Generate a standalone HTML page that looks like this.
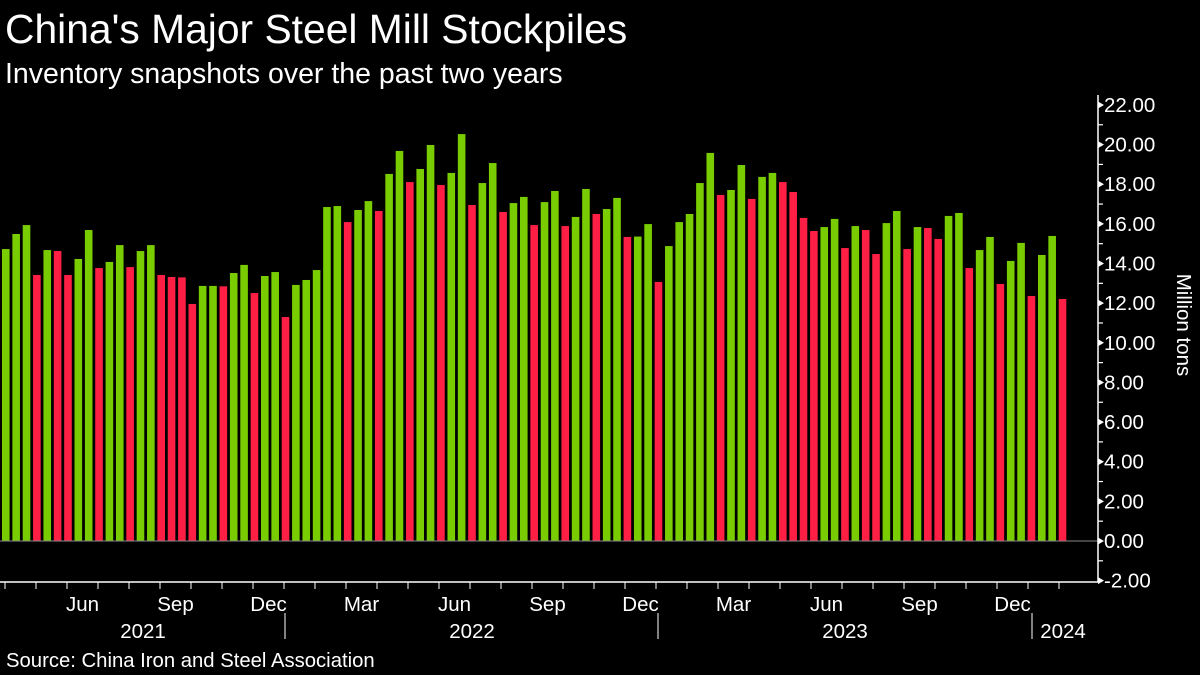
<!DOCTYPE html>
<html><head><meta charset="utf-8"><style>
html,body{margin:0;padding:0;background:#000;width:1200px;height:675px;overflow:hidden}
svg{display:block;font-family:"Liberation Sans",Arial,sans-serif}
</style></head><body>
<svg id="chart" width="1200" height="675" xmlns="http://www.w3.org/2000/svg">
<rect width="1200" height="675" fill="#000"/>
<text x="5" y="43" fill="#fff" font-size="40.8">China's Major Steel Mill Stockpiles</text>
<text x="5" y="83" fill="#fff" font-size="28.5">Inventory snapshots over the past two years</text>
<text x="6" y="667" fill="#fff" font-size="20.3">Source: China Iron and Steel Association</text>
<g id="bars"></g>
<g id="axes"></g>
</svg>
<script>
const values = [14.73,15.49,15.94,13.42,14.68,14.63,13.42,14.23,15.69,13.77,14.08,14.93,13.82,14.63,14.93,13.42,13.32,13.30,11.96,12.87,12.87,12.85,13.52,13.93,12.51,13.37,13.57,11.30,12.92,13.17,13.67,16.85,16.90,16.09,16.70,17.15,16.65,18.52,19.68,18.11,18.77,19.98,17.96,18.57,20.53,16.95,18.06,19.07,16.60,17.05,17.36,15.94,17.10,17.66,15.89,16.35,17.76,16.50,16.75,17.31,15.34,15.36,15.99,13.07,14.88,16.09,16.50,18.06,19.58,17.46,17.71,18.97,17.26,18.37,18.57,18.11,17.61,16.30,15.64,15.84,16.25,14.78,15.89,15.69,14.48,16.04,16.65,14.73,15.84,15.79,15.24,16.40,16.55,13.77,14.68,15.34,12.97,14.13,15.04,12.36,14.43,15.39,12.21];
const yTicks = [-2,0,2,4,6,8,10,12,14,16,18,20,22];
const monthLabels = ["Jun","Sep","Dec","Mar","Jun","Sep","Dec","Mar","Jun","Sep","Dec"];
const monthLabelIdx = [2,5,8,11,14,17,20,23,26,29,32];
const yearLabels = ["2021","2022","2023","2024"];
const yearLabelX = [143,472,845,1063];
const NS="http://www.w3.org/2000/svg";
const y = v => 541 - v*19.82;
const x = i => 2 + i*10.36;
const monthX = m => 5 + m*31;
function mk(tag, attrs, parent){const e=document.createElementNS(NS,tag);for(const k in attrs)e.setAttribute(k,attrs[k]);parent.appendChild(e);return e;}
const bars=document.getElementById('bars'), axes=document.getElementById('axes');
values.forEach((v,i)=>{
  const down = i>0 && v<values[i-1];
  const r=mk('rect',{x:x(i),y:Math.min(y(v),y(0)),width:7.6,height:Math.abs(y(0)-y(v)),fill:down?'#ff1f44':'#78cc00'},bars);
  
  
});
let l=mk('line',{x1:0,x2:1098,y1:y(0),y2:y(0),stroke:'#888','stroke-width':1},axes);


l=mk('line',{x1:1098,x2:1098,y1:95,y2:582,stroke:'#fff','stroke-width':1.5},axes);


l=mk('line',{x1:0,x2:1098,y1:582,y2:582,stroke:'#fff','stroke-width':1.5},axes);


yTicks.forEach(t=>{
  const p=mk('path',{d:`M1098 ${y(t)-3.5} L1104 ${y(t)} L1098 ${y(t)+3.5} Z`,fill:'#fff'},axes);
  
  
  const tx=mk('text',{x:1104,y:y(t)+7,fill:'#fff','font-size':20.5},axes);
  tx.textContent=t.toFixed(2);
  
  
  if(t<22){const m=mk('line',{x1:1098,x2:1103,y1:y(t+1),y2:y(t+1),stroke:'#fff','stroke-width':1.2},axes);
  
  }
});
for(let m=0;m<35;m++){
  const t=mk('line',{x1:monthX(m),x2:monthX(m),y1:582,y2:589,stroke:'#fff','stroke-width':1},axes);
  
  
}
monthLabels.forEach((s,k)=>{
  const t=mk('text',{x:monthX(monthLabelIdx[k])+15.5,y:611,fill:'#fff','font-size':20.5,'text-anchor':'middle'},axes);
  t.textContent=s;
  
  
});
[285,658,1032].forEach(sx=>{
  const s=mk('line',{x1:sx,x2:sx,y1:613,y2:639,stroke:'#fff','stroke-width':1},axes);
  
  
});
yearLabels.forEach((s,k)=>{
  const t=mk('text',{x:yearLabelX[k],y:638,fill:'#fff','font-size':20.5,'text-anchor':'middle'},axes);
  t.textContent=s;
  
  
});
const yt=mk('text',{x:1177,y:325,fill:'#fff','font-size':20.5,'text-anchor':'middle',transform:'rotate(90 1177 325)'},axes);
yt.textContent='Million tons';


</script>
</body></html>
